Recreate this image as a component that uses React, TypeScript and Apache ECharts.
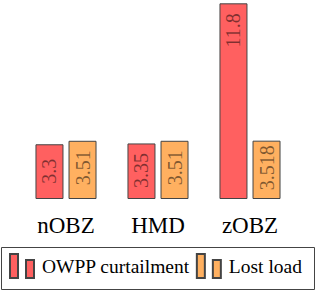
import React, { useEffect, useRef } from "react";
import * as echarts from "echarts";

const categories = ["nOBZ", "HMD", "zOBZ"];
const curtailment = [3.3, 3.35, 11.8];
const lostLoad = [3.51, 3.51, 3.518];
const seriesNames = ["OWPP curtailment", "Lost load"];

const FONT = "Times New Roman";
const ICON = "path://M0,0H8V24H0Z M16,6H24V24H16Z";

export default function App() {
  const ref = useRef<HTMLDivElement>(null);
  useEffect(() => {
    if (!ref.current) return;
    const chart = echarts.init(ref.current, undefined, { renderer: "svg" });
    const label = {
      show: true,
      position: "insideTop",
      distance: 27,
      rotate: 90,
      align: "center",
      verticalAlign: "middle",
      fontFamily: FONT,
      fontSize: 20,
      color: "rgba(0,0,0,0.5)",
    };
    chart.setOption({
      animation: false,
      textStyle: { fontFamily: FONT },
      grid: { left: 20, right: 20, top: -1, bottom: 93, containLabel: false },
      xAxis: {
        type: "category",
        data: categories,
        axisLine: { show: false },
        axisTick: { show: false },
        axisLabel: { fontSize: 23, color: "#000", margin: 15, fontFamily: FONT },
      },
      yAxis: {
        type: "value",
        min: 0,
        max: 12,
        show: false,
        splitLine: { show: false },
      },
      legend: {
        left: 9,
        top: 253,
        padding: 0,
        itemGap: 6,
        itemWidth: 24,
        itemHeight: 24,
        icon: ICON,
        textStyle: { fontSize: 19.5, color: "#000", fontFamily: FONT, padding: [6, 0, 0, 3] },
        data: seriesNames,
      },
      graphic: [
        {
          type: "rect",
          shape: { x: 1.5, y: 247.5, width: 313, height: 42 },
          style: { fill: "none", stroke: "#444", lineWidth: 1 },
        },
      ],
      series: [
        {
          name: seriesNames[0],
          type: "bar",
          data: curtailment,
          barWidth: 28,
          barGap: "18%",
          itemStyle: { color: "#ff6060", borderColor: "#444", borderWidth: 1 },
          label,
        },
        {
          name: seriesNames[1],
          type: "bar",
          data: lostLoad,
          barWidth: 28,
          itemStyle: { color: "#ffb060", borderColor: "#444", borderWidth: 1 },
          label,
        },
      ],
    });
    return () => chart.dispose();
  }, []);
  return (
    <div
      ref={ref}
      style={{ position: "absolute", left: 0, top: 0, width: 316, height: 292 }}
    />
  );
}
